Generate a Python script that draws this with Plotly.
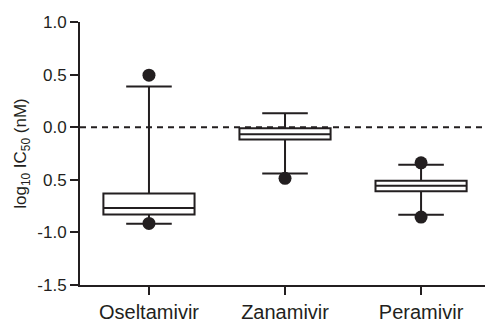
import plotly.graph_objects as go

# Neuraminidase inhibitor susceptibility, log10 IC50 (nM)
drugs = ["Oseltamivir", "Zanamivir", "Peramivir"]
q1 = [-0.83, -0.118, -0.609]
median = [-0.768, -0.066, -0.557]
q3 = [-0.63, -0.011, -0.508]
lower_whisker = [-0.918, -0.44, -0.833]
upper_whisker = [0.388, 0.133, -0.357]

# Individual outlying strains shown as dots
outlier_drug = ["Oseltamivir", "Oseltamivir", "Zanamivir", "Peramivir", "Peramivir"]
outlier_val = [0.495, -0.915, -0.486, -0.339, -0.854]

y_tickvals = [1.0, 0.5, 0.0, -0.5, -1.0, -1.5]
y_ticktext = ["1.0", "0.5", "0.0", "0.5", "-1.0", "-1.5"]

ink = "#231f20"
font = "Liberation Sans, Arial, sans-serif"

fig = go.Figure()
fig.add_trace(go.Box(
    x=drugs, q1=q1, median=median, q3=q3,
    lowerfence=lower_whisker, upperfence=upper_whisker,
    width=0.67, whiskerwidth=0.5,
    fillcolor="white", line=dict(color=ink, width=2),
    boxpoints=False, hoverinfo="skip", showlegend=False,
))
fig.add_trace(go.Scatter(
    x=outlier_drug, y=outlier_val, mode="markers",
    marker=dict(color=ink, size=13, line=dict(width=0)),
    showlegend=False, hoverinfo="skip",
))

fig.add_shape(type="line", xref="paper", x0=0, x1=1, yref="y", y0=0, y1=0,
              line=dict(color=ink, width=2, dash="6px,5px"))

fig.update_layout(
    width=485, height=323,
    margin=dict(l=80, r=0, t=22, b=29),
    paper_bgcolor="white", plot_bgcolor="white",
    font=dict(family=font, color=ink),
)
fig.update_xaxes(
    type="category", categoryorder="array", categoryarray=drugs,
    range=[-0.507, 2.47], showgrid=False, zeroline=False,
    showline=True, linecolor=ink, linewidth=2,
    ticks="outside", ticklen=8, tickwidth=2, tickcolor=ink,
    tickfont=dict(size=20, family=font, color=ink),
)
fig.update_yaxes(
    range=[-1.5, 1.0], tickvals=y_tickvals, ticktext=y_ticktext,
    showgrid=False, zeroline=False,
    showline=True, linecolor=ink, linewidth=2,
    ticks="outside", ticklen=8, tickwidth=2, tickcolor=ink,
    tickfont=dict(size=17, family=font, color=ink),
    title=dict(text="log<sub>10</sub> IC<sub>50</sub> (nM)",
               font=dict(size=17, family=font, color=ink), standoff=6),
)

fig.write_html("out.html")
